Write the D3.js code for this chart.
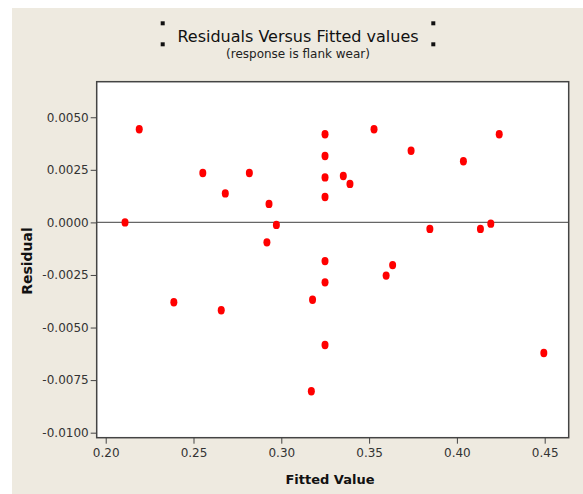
<!DOCTYPE html>
<html><head><meta charset="utf-8">
<script src="https://cdn.jsdelivr.net/npm/d3@7"></script>
<style>body{margin:0;background:#fff}svg{display:block}text{font-family:"DejaVu Sans",sans-serif}</style>
</head><body>
<script>
const fittedValues = [0.2110,0.2191,0.2388,0.2553,0.2658,0.2681,0.2818,0.2918,0.2930,0.2972,0.3171,0.3178,0.3249,0.3249,0.3249,0.3249,0.3249,0.3249,0.3249,0.3353,0.3391,0.3528,0.3597,0.3634,0.3739,0.3846,0.4037,0.4134,0.4193,0.4241,0.4495];
const residuals = [0.00000,0.00443,-0.00380,0.00235,-0.00418,0.00138,0.00235,-0.00095,0.00088,-0.00012,-0.00803,-0.00368,0.00419,0.00316,0.00214,0.00121,-0.00184,-0.00285,-0.00583,0.00221,0.00183,0.00443,-0.00253,-0.00203,0.00341,-0.00031,0.00291,-0.00031,-0.00006,0.00419,-0.00621];
const xTicks = [0.20,0.25,0.30,0.35,0.40,0.45];
const yTicks = [0.0050,0.0025,0.0000,-0.0025,-0.0050,-0.0075,-0.0100];
const titleText = "Residuals Versus Fitted values";
const subtitleText = "(response is flank wear)";
const xLabel = "Fitted Value";
const yLabel = "Residual";

const W=583,H=494;
const svg=d3.select("body").append("svg").attr("width",W).attr("height",H);
svg.append("rect").attr("x",12).attr("y",8).attr("width",W-12).attr("height",H-8).attr("fill","#EEEAE0");

const L=96.7,R=568.7,T=81.7,B=437.7;
const x=d3.scaleLinear().domain([0.19487,0.46367]).range([L,R]);
const y=d3.scaleLinear().domain([-0.010239,0.006691]).range([B,T]);

svg.append("rect").attr("x",L).attr("y",T).attr("width",R-L).attr("height",B-T).attr("fill","#fff");

// zero line
svg.append("line").attr("x1",L).attr("x2",R).attr("y1",y(0)).attr("y2",y(0)).attr("stroke","#666").attr("stroke-width",1.2);

const xa=svg.append("g").attr("transform",`translate(0,${B})`)
  .call(d3.axisBottom(x).tickValues(xTicks).tickFormat(d3.format(".2f")).tickSize(6).tickSizeOuter(0));
const ya=svg.append("g").attr("transform",`translate(${L},0)`)
  .call(d3.axisLeft(y).tickValues(yTicks).tickFormat(d3.format(".4f")).tickSize(6).tickSizeOuter(0));
[xa,ya].forEach(g=>{
  g.select(".domain").remove();
  g.selectAll(".tick line").attr("stroke","#444");
  g.selectAll(".tick text").attr("fill","#333").style("font-size","12px").style("font-family","'DejaVu Sans',sans-serif");
});
xa.selectAll(".tick text").attr("dy","0.9em");
ya.selectAll(".tick text").attr("x",-8).text(d=>d3.format(".4f")(d).replace("−","-"));

svg.append("rect").attr("x",L).attr("y",T).attr("width",R-L).attr("height",B-T).attr("fill","none").attr("stroke","#444").attr("stroke-width",1.5);

svg.append("g").selectAll("ellipse").data(fittedValues.map((v,i)=>[v,residuals[i]])).join("ellipse")
  .attr("cx",d=>x(d[0])).attr("cy",d=>y(d[1])).attr("rx",3.5).attr("ry",4.2).attr("fill","#ff0000");

// title
svg.append("text").attr("x",298).attr("y",42).attr("text-anchor","middle").style("font-size","16px").attr("fill","#111").text(titleText);
svg.append("text").attr("x",298).attr("y",58).attr("text-anchor","middle").style("font-size","12px").attr("fill","#222").text(subtitleText);
[[162.7,23.3],[162.7,44.3],[433.3,23.3],[433.3,44.3]].forEach(p=>{
  svg.append("rect").attr("x",p[0]-2).attr("y",p[1]-2).attr("width",4).attr("height",4).attr("fill","#111");
});
svg.append("text").attr("x",330).attr("y",484).attr("text-anchor","middle").style("font-size","13px").style("font-weight","bold").attr("fill","#111").text(xLabel);
svg.append("text").attr("transform",`translate(32,261) rotate(-90)`).attr("text-anchor","middle").style("font-size","14px").style("font-weight","bold").attr("fill","#111").text(yLabel);
</script>
</body></html>
